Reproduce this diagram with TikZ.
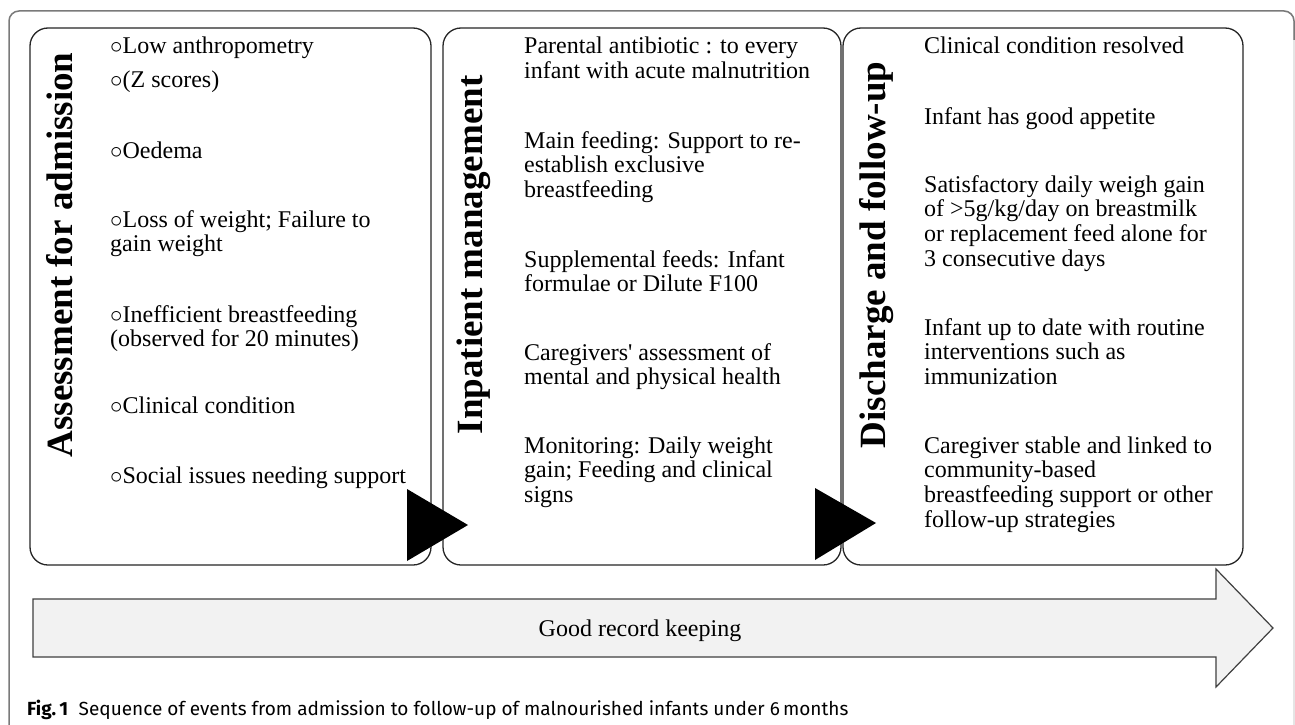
\documentclass[tikz,border=0pt]{standalone}
\usepackage{fontspec}
\setmainfont{Liberation Serif}
\newfontfamily\capfont{Fira Sans}
\newcommand\bul{$\circ$}
\newcommand\ml[1]{\begin{tabular}[t]{@{}l@{}}#1\end{tabular}}
\definecolor{framegray}{HTML}{7A7A7A}
\definecolor{framelight}{HTML}{D8D8D8}
\definecolor{arrowfill}{HTML}{F2F2F2}
\begin{document}
\begin{tikzpicture}[x=1pt,y=-1pt,
  box/.style={draw=black!85, line width=1.3pt, rounded corners=18pt, minimum height=537pt, inner sep=0pt},
  ttl/.style={rotate=90, anchor=base, inner sep=0pt, font=\fontsize{37}{40}\bfseries\selectfont},
  itm/.style={anchor=base west, inner sep=0pt, font=\fontsize{24}{24.7}\selectfont},
  tri/.style={fill=black},
  bigarrow/.style={draw=black!75, fill=arrowfill, line width=1.2pt},
]
\useasboundingbox (0,0) rectangle (1295,725);
\fill[white] (0,0) rectangle (1295,725);
% outer frame
\draw[framelight, line width=1.4pt, rounded corners=10pt] (1284,11) -- (1294,11) -- (1294,740);
\draw[framegray, line width=1.5pt, rounded corners=10pt] (9,740) -- (9,11) -- (1294,11) -- (1294,40);
% boxes
\node[box, minimum width=401pt] (B1) at (230.5,296.5) {};
\node[box, minimum width=398pt] (B2) at (642,296.5) {};
\node[box, minimum width=400pt] (B3) at (1043,296.5) {};
% triangles between boxes
\fill[tri] (407,489) -- (407,561) -- (468,525) -- cycle;
\fill[tri] (815,488) -- (815,560) -- (876,523) -- cycle;
% titles
\node[ttl] (T1) at (72,255) {Assessment for admission};
\node[ttl] (T2) at (482,255) {Inpatient management};
\node[ttl] (T3) at (885,255) {Discharge and follow-up};
% box 1 items
\node[itm] (a1) at (110,54) {\bul Low anthropometry};
\node[itm] (a2) at (110,88) {\bul(Z scores)};
\node[itm] (a3) at (110,158) {\bul Oedema};
\node[itm] (a4) at (110,227) {\ml{\bul Loss of weight; Failure to\\gain weight}};
\node[itm] (a5) at (110,322) {\ml{\bul Inefficient breastfeeding\\(observed for 20 minutes)}};
\node[itm] (a6) at (110,413) {\bul Clinical condition};
\node[itm] (a7) at (110,483) {\bul Social issues needing support};
% box 2 items
\node[itm] (b1) at (524,54) {\ml{Parental antibiotic : to every\\infant with acute malnutrition}};
\node[itm] (b2) at (524,148) {\ml{Main feeding: Support to re-\\establish exclusive\\breastfeeding}};
\node[itm] (b3) at (524,267) {\ml{Supplemental feeds: Infant\\formulae or Dilute F100}};
\node[itm] (b4) at (524,360) {\ml{Caregivers\textquotesingle\ assessment of\\mental and physical health}};
\node[itm] (b5) at (524,453) {\ml{Monitoring: Daily weight\\gain; Feeding and clinical\\signs}};
% box 3 items
\node[itm] (c1) at (924,54) {Clinical condition resolved};
\node[itm] (c2) at (924,124) {Infant has good appetite};
\node[itm] (c3) at (924,192) {\ml{Satisfactory daily weigh gain\\of >5g/kg/day on breastmilk\\or replacement feed alone for\\3 consecutive days}};
\node[itm] (c4) at (924,335) {\ml{Infant up to date with routine\\interventions such as\\immunization}};
\node[itm] (c5) at (924,453) {\ml{Caregiver stable and linked to\\community-based\\breastfeeding support or other\\follow-up strategies}};
% big arrow
\draw[bigarrow] (33,599) -- (1216,599) -- (1216,569) -- (1273,628) -- (1216,687) -- (1216,657) -- (33,657) -- cycle;
\node[anchor=base, inner sep=0pt, font=\fontsize{24}{26}\selectfont] (rec) at (640,636) {Good record keeping};
% caption
\node[anchor=base west, inner sep=0pt, font=\capfont\fontsize{19}{22}\selectfont] (cap) at (27,715) {\textbf{Fig.\,1}\hspace{0.55em}Sequence of events from admission to follow-up of malnourished infants under 6\,months};
\end{tikzpicture}
\end{document}
